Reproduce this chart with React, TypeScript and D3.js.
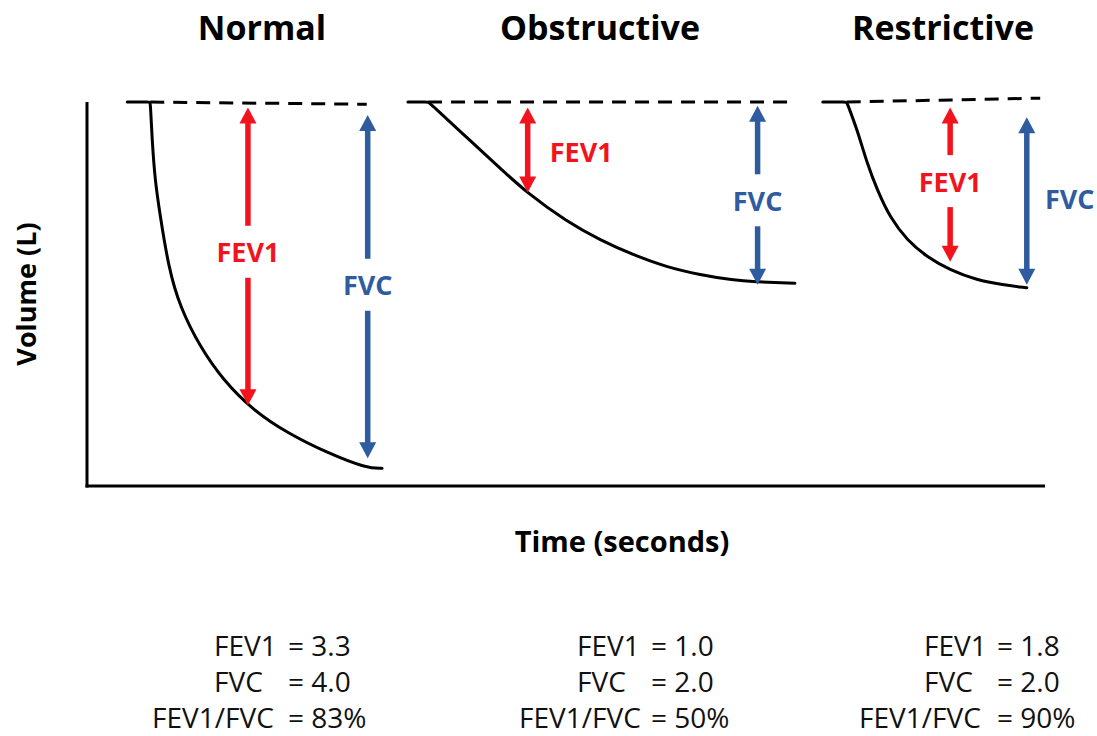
import React from "react";
import * as d3 from "d3";

// ---------- data ----------
const panels = ["Normal", "Obstructive", "Restrictive"];

// curves: [time (s), volume (arbitrary units)]
const normalCurve: [number, number][] = [
  [0.42, 5.0], [0.66, 5.0], [0.66, 5.0], [0.68, 4.5], [0.71, 3.98], [0.76, 3.55], [0.85, 2.85],
  [0.97, 2.33], [1.18, 1.81], [1.42, 1.38], [1.73, 0.99], [2.09, 0.69], [2.51, 0.43],
  [2.92, 0.23], [3.08, 0.23],
];
const obstructiveCurve: [number, number][] = [
  [3.35, 5.0], [3.56, 5.0], [3.56, 5.0], [3.61, 4.95], [3.97, 4.53], [4.31, 4.14], [4.59, 3.82],
  [5.01, 3.44], [5.36, 3.2], [5.7, 3.01], [6.05, 2.85], [6.4, 2.75], [6.75, 2.68], [6.95, 2.66],
  [7.39, 2.64],
];
const restrictiveCurve: [number, number][] = [
  [7.68, 5.0], [7.93, 5.0], [7.93, 5.0], [8.04, 4.64], [8.14, 4.21], [8.25, 3.85], [8.38, 3.5],
  [8.56, 3.2], [8.77, 2.98], [9.01, 2.81], [9.29, 2.68], [9.56, 2.62], [9.81, 2.58],
];
const curves = [normalCurve, obstructiveCurve, restrictiveCurve];

// dashed baseline
const baselineStart = [0.66, 3.56, 7.93];
const baselineEnd = [2.92, 7.39, 9.95];
const baselineEndVol = [4.97, 5.0, 5.05];

// FEV1 arrows: time, top volume, bottom volume, label position
const fev1ArrowT = [1.68, 4.6, 9.01];
const fev1ArrowTop = [4.93, 4.93, 4.93];
const fev1ArrowBottom = [1.05, 3.82, 2.92];
const fev1LabelT = [1.68, 4.83, 9.01];
const fev1LabelV = [3.05, 4.35, 3.97];
const fev1LabelInline = [true, false, true];

// FVC arrows
const fvcArrowT = [2.93, 7.0, 9.81];
const fvcArrowTop = [4.83, 4.95, 4.8];
const fvcArrowBottom = [0.36, 2.62, 2.62];
const fvcLabelT = [2.93, 7.0, 10.0];
const fvcLabelV = [2.62, 3.72, 3.74];
const fvcLabelInline = [true, true, false];

// summary values
const fev1Values = ["3.3", "1.0", "1.8"];
const fvcValues = ["4.0", "2.0", "2.0"];
const ratioValues = ["83%", "50%", "90%"];

// ---------- layout ----------
const W = 1097;
const H = 736;
const RED = "#f2141c";
const BLUE = "#2f5c9e";
const FONT = "'Open Sans', 'DejaVu Sans', sans-serif";

const titleX = [262, 600, 943];
const sumShortX = [214, 577, 924];
const sumLongX = [152, 519, 859];
const sumEqX = [288, 651, 997];
const sumBase = [656, 692, 728];

function Arrow({ x, yTop, yBottom, color, gapCenter }: { x: number; yTop: number; yBottom: number; color: string; gapCenter?: number }) {
  const head = 16;
  const hw = 8.5;
  const sw = 5.5;
  const gap = 26;
  const segs: [number, number][] = gapCenter === undefined
    ? [[yTop + head - 1, yBottom - head + 1]]
    : [[yTop + head - 1, gapCenter - gap], [gapCenter + gap, yBottom - head + 1]];
  return (
    <g>
      {segs.map(([a, b], i) => (
        <line key={i} x1={x} x2={x} y1={a} y2={b} stroke={color} strokeWidth={sw} />
      ))}
      <path d={`M${x},${yTop} L${x - hw},${yTop + head} L${x + hw},${yTop + head} Z`} fill={color} />
      <path d={`M${x},${yBottom} L${x - hw},${yBottom - head} L${x + hw},${yBottom - head} Z`} fill={color} />
    </g>
  );
}

export default function App() {
  const x = d3.scaleLinear().domain([0, 10]).range([87, 1045]);
  const y = d3.scaleLinear().domain([0, 5]).range([486, 102]);
  const line = d3
    .line<[number, number]>()
    .x((d) => x(d[0]))
    .y((d) => y(d[1]))
    .curve(d3.curveBasis);

  return (
    <svg width={W} height={H} style={{ position: "absolute", left: 0, top: 0, background: "#fff" }} fontFamily={FONT}>
      <rect width={W} height={H} fill="#fff" />
      {/* axes */}
      <line x1={x(0)} x2={x(0)} y1={y(5)} y2={y(0) + 1.5} stroke="#000" strokeWidth={3} />
      <line x1={x(0) - 1.5} x2={x(10)} y1={y(0)} y2={y(0)} stroke="#000" strokeWidth={3} />
      <text x={622} y={552} textAnchor="middle" fontSize={29} fontWeight={700} fill="#000">
        Time (seconds)
      </text>
      <text transform={`translate(36,294) rotate(-90)`} textAnchor="middle" fontSize={27} fontWeight={700} fill="#000">
        Volume (L)
      </text>

      {panels.map((p, i) => (
        <g key={p}>
          <text x={titleX[i]} y={40} textAnchor="middle" fontSize={34} fontWeight={700} fill="#000">
            {p}
          </text>
          <line
            x1={x(baselineStart[i])}
            y1={y(5)}
            x2={x(baselineEnd[i])}
            y2={y(baselineEndVol[i])}
            stroke="#000"
            strokeWidth={3}
            strokeDasharray="14 9"
          />
          <path d={line(curves[i]) || ""} fill="none" stroke="#000" strokeWidth={3} strokeLinecap="round" strokeLinejoin="round" />

          <Arrow
            x={x(fev1ArrowT[i])}
            yTop={y(fev1ArrowTop[i])}
            yBottom={y(fev1ArrowBottom[i])}
            color={RED}
            gapCenter={fev1LabelInline[i] ? y(fev1LabelV[i]) : undefined}
          />
          <text
            x={x(fev1LabelT[i])}
            y={y(fev1LabelV[i])}
            textAnchor={fev1LabelInline[i] ? "middle" : "start"}
            dominantBaseline="central"
            fontSize={27}
            fontWeight={700}
            fill={RED}
          >
            FEV1
          </text>

          <Arrow
            x={x(fvcArrowT[i])}
            yTop={y(fvcArrowTop[i])}
            yBottom={y(fvcArrowBottom[i])}
            color={BLUE}
            gapCenter={fvcLabelInline[i] ? y(fvcLabelV[i]) : undefined}
          />
          <text
            x={x(fvcLabelT[i])}
            y={y(fvcLabelV[i])}
            textAnchor={fvcLabelInline[i] ? "middle" : "start"}
            dominantBaseline="central"
            fontSize={27}
            fontWeight={700}
            fill={BLUE}
          >
            FVC
          </text>

          <g fontSize={28} fill="#111">
            <text x={sumShortX[i]} y={sumBase[0]}>FEV1</text>
            <text x={sumEqX[i]} y={sumBase[0]}>{`= ${fev1Values[i]}`}</text>
            <text x={sumShortX[i]} y={sumBase[1]}>FVC</text>
            <text x={sumEqX[i]} y={sumBase[1]}>{`= ${fvcValues[i]}`}</text>
            <text x={sumLongX[i]} y={sumBase[2]}>FEV1/FVC</text>
            <text x={sumEqX[i]} y={sumBase[2]}>{`= ${ratioValues[i]}`}</text>
          </g>
        </g>
      ))}
    </svg>
  );
}
